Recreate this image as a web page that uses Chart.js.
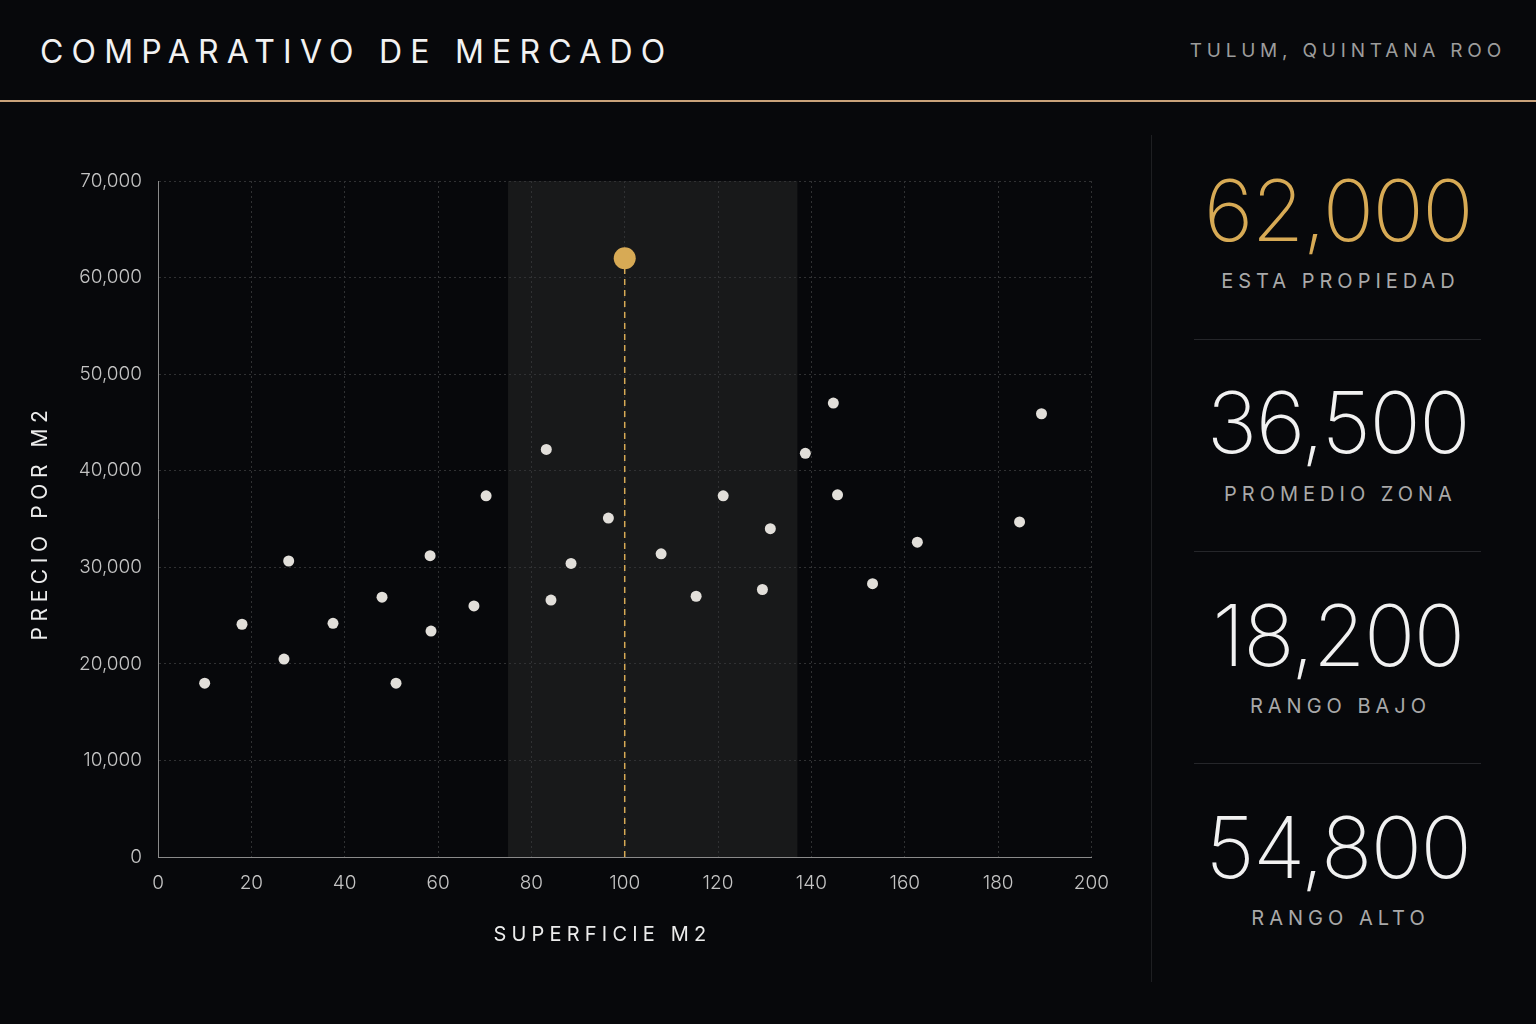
<!DOCTYPE html>
<html>
<head>
<meta charset="utf-8">
<script src="https://cdn.jsdelivr.net/npm/chart.js@4.4.1/dist/chart.umd.min.js"></script>
<style>
  html, body { margin:0; padding:0; background:#07080b; width:1536px; height:1024px; overflow:hidden; font-family: Inter, "Noto Sans", sans-serif; }
  .title { position:absolute; left:40px; top:30px; height:44px; line-height:44px; font-size:32px; font-weight:400; letter-spacing:8.2px; color:#f2f2f2; white-space:nowrap; }
  .loc { position:absolute; right:30px; top:38px; height:26px; line-height:26px; font-size:19px; font-weight:400; letter-spacing:4.8px; color:#9c9c9c; white-space:nowrap; }
  .rule { position:absolute; left:0; top:100px; width:1536px; height:2px; background:#c9a27a; }
  .vsep { position:absolute; left:1151px; top:135px; width:1px; height:847px; background:#1e1f22; }
  .hsep { position:absolute; left:1194px; width:287px; height:1px; background:#25262a; }
  .num { position:absolute; left:1150px; width:376px; text-align:center; height:100px; line-height:100px; font-size:85px; font-weight:200; letter-spacing:-1.5px; color:#f1f1f1; white-space:nowrap; }
  .num.gold { color:#d7aa55; }
  .lbl { position:absolute; left:1150px; width:376px; text-align:center; height:30px; line-height:30px; font-size:20px; font-weight:400; letter-spacing:5px; color:#a9a9a9; white-space:nowrap; text-indent:5px; }
  .xt { position:absolute; left:400px; width:400px; text-align:center; top:919px; height:30px; line-height:30px; font-size:20px; letter-spacing:5.2px; color:#ececec; text-indent:5px; }
  .yt { position:absolute; left:-160px; top:510px; width:400px; height:30px; line-height:30px; text-align:center; font-size:21px; letter-spacing:5.6px; color:#ececec; transform:rotate(-90deg); text-indent:5px; }
  #wrap { position:absolute; left:20px; top:130px; width:1104px; height:850px; }
</style>
</head>
<body>
<div class="title">COMPARATIVO DE MERCADO</div>
<div class="loc">TULUM, QUINTANA ROO</div>
<div class="rule"></div>
<div class="vsep"></div>

<div id="wrap"><canvas id="c"></canvas></div>
<div class="xt">SUPERFICIE M2</div>
<div class="yt">PRECIO POR M2</div>

<div id="panel"></div>

<script>
// ---- Data ----
const surfaceM2 = [10, 18, 27, 28, 37.5, 48, 51, 58.3, 58.5, 67.7, 70.3, 83.2, 84.2, 88.5, 96.5, 107.8, 115.3, 121.1, 129.5, 131.2, 138.7, 144.7, 145.6, 153.1, 162.7, 184.6, 189.3];
const pricePerM2 = [18000, 24100, 20500, 30650, 24200, 26900, 18000, 31200, 23400, 26000, 37400, 42200, 26600, 30400, 35100, 31400, 27000, 37400, 27700, 34000, 41800, 47000, 37500, 28300, 32600, 34700, 45900];
const subjectSurface = 100;
const subjectPrice = 62000;
const comparableRange = [75, 137];
const statValues = [62000, 36500, 18200, 54800];
const statLabels = ["ESTA PROPIEDAD", "PROMEDIO ZONA", "RANGO BAJO", "RANGO ALTO"];
const xTicksMax = 200, yTicksMax = 70000;

// ---- Side panel ----
const panel = document.getElementById('panel');
const numCenters = [211, 423, 636, 848];
const lblCenters = [281, 494, 706, 918];
statValues.forEach((v, i) => {
  const n = document.createElement('div');
  n.className = 'num' + (i === 0 ? ' gold' : '');
  n.style.top = (numCenters[i] - 50) + 'px';
  n.textContent = v.toLocaleString('en-US');
  panel.appendChild(n);
  const l = document.createElement('div');
  l.className = 'lbl';
  l.style.top = (lblCenters[i] - 15) + 'px';
  l.textContent = statLabels[i];
  panel.appendChild(l);
  if (i < statValues.length - 1) {
    const h = document.createElement('div');
    h.className = 'hsep';
    h.style.top = [339, 551, 763][i] + 'px';
    panel.appendChild(h);
  }
});

// ---- Chart ----
const bandPlugin = {
  id: 'band',
  beforeDraw(chart) {
    const {ctx, chartArea, scales} = chart;
    const x0 = scales.x.getPixelForValue(comparableRange[0]);
    const x1 = scales.x.getPixelForValue(comparableRange[1]);
    ctx.save();
    ctx.fillStyle = '#18191a';
    ctx.fillRect(x0, chartArea.top, x1 - x0, chartArea.bottom - chartArea.top);
    ctx.restore();
  }
};

const tickFont = { family: 'Inter', size: 19, weight: '300' };

new Chart(document.getElementById('c'), {
  type: 'scatter',
  data: {
    datasets: [
      {
        label: 'Comparables',
        data: surfaceM2.map((x, i) => ({ x, y: pricePerM2[i] })),
        backgroundColor: '#e2dfda',
        borderWidth: 0,
        pointRadius: 5.5,
        pointHoverRadius: 5.5,
        order: 3
      },
      {
        label: 'Guía',
        data: [{ x: subjectSurface, y: 0 }, { x: subjectSurface, y: subjectPrice }],
        showLine: true,
        borderColor: '#d7aa55',
        borderWidth: 1.5,
        borderDash: [6, 5],
        pointRadius: 0,
        order: 2
      },
      {
        label: 'Esta propiedad',
        data: [{ x: subjectSurface, y: subjectPrice }],
        backgroundColor: '#d7aa55',
        borderWidth: 0,
        pointRadius: 11,
        pointHoverRadius: 11,
        order: 1
      }
    ]
  },
  options: {
    responsive: true,
    maintainAspectRatio: false,
    animation: false,
    layout: { padding: { top: 51, right: 27, bottom: 0, left: 0 } },
    plugins: { legend: { display: false }, tooltip: { enabled: false } },
    scales: {
      x: {
        type: 'linear', min: 0, max: xTicksMax,
        ticks: { stepSize: 20, color: '#c4c4c4', font: tickFont, padding: 15 },
        grid: { color: '#303133', lineWidth: 1, drawTicks: false },
        border: { display: true, color: '#8a8a8a', width: 1, dash: [2, 3] },
        afterFit(s) { s.height = 123; }
      },
      y: {
        type: 'linear', min: 0, max: yTicksMax,
        ticks: { stepSize: 10000, color: '#c4c4c4', font: tickFont, padding: 16,
          callback: v => v.toLocaleString('en-US') },
        grid: { color: '#303133', lineWidth: 1, drawTicks: false },
        border: { display: true, color: '#8a8a8a', width: 1, dash: [2, 3] },
        afterFit(s) { s.width = 138; }
      }
    }
  },
  plugins: [bandPlugin]
});
</script>
</body>
</html>
